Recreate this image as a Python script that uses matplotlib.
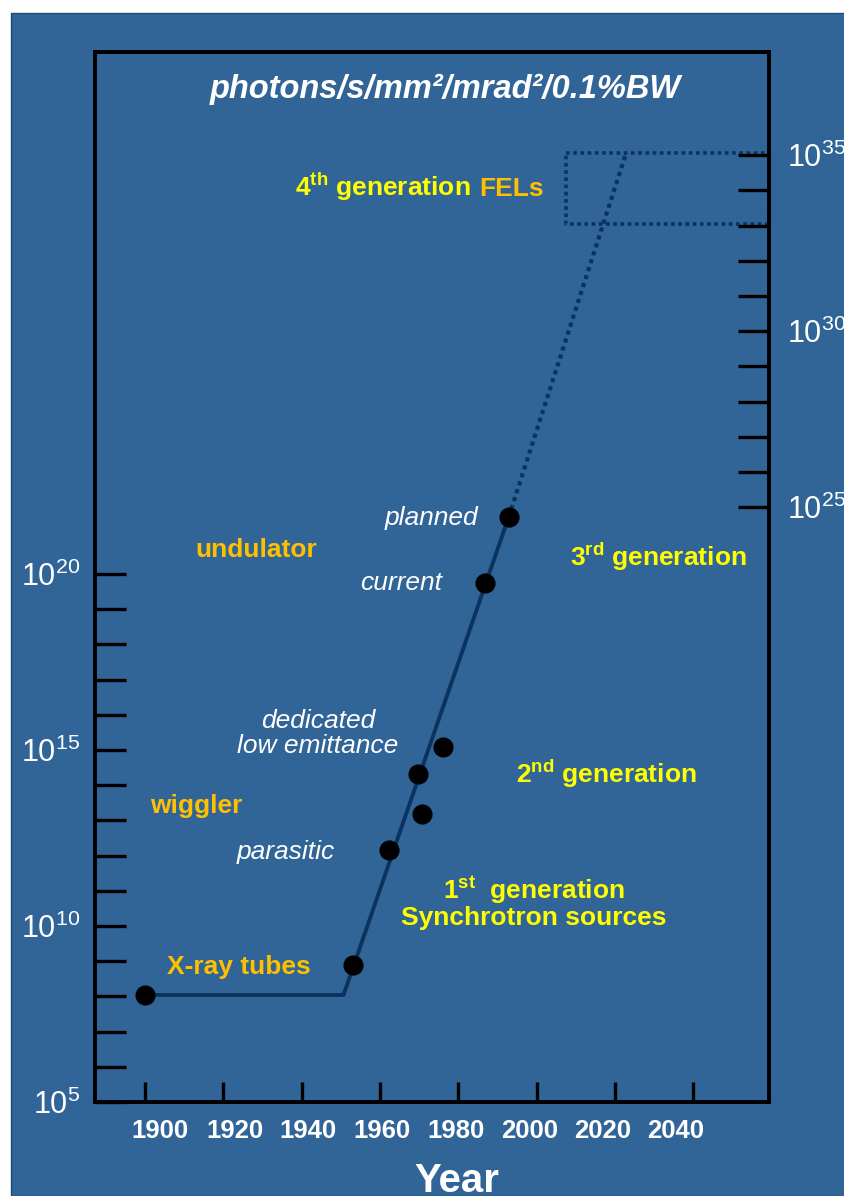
import matplotlib
matplotlib.use('Agg')
import matplotlib.pyplot as plt
import matplotlib.transforms as mtransforms
import numpy as np
from matplotlib.patches import Rectangle
from matplotlib.ticker import NullLocator

# source points: year and log10(brilliance)
years = [1900, 1953.2, 1962.4, 1970.8, 1969.8, 1976.2, 1986.9, 1992.9]
bright_exp = [8.04, 8.89, 12.16, 13.18, 14.32, 15.09, 19.74, 21.62]

# trend line (solid) and projection to FELs (dotted)
trend_years = [1900, 1950.7, 1992.9]
trend_exp = [8.04, 8.04, 21.62]
proj_years = [1992.9, 2022.9]
proj_exp = [21.62, 31.96]

# 4th generation FEL box
fel_years = [2007.6, 2059.4]
fel_exp = [29.94, 31.96]

xticks = [1900, 1920, 1940, 1960, 1980, 2000, 2020, 2040]
# the year labels in the original are not centred on their ticks (pixels)
xlabel_shift = [15, 12, 6, 2, -2, -7, -12, -17]
left_exp = list(range(5, 21))
left_labeled = [5, 10, 15, 20]
right_exp = list(range(25, 36))
right_labeled = [25, 30, 35]
right_offset = 3.1

BG = '#316497'
LINE = '#0b335f'
YEL = '#ffff00'
ORA = '#ffc000'
FS = 19

plt.rcParams['font.family'] = 'Liberation Sans'
plt.rcParams['mathtext.fontset'] = 'custom'
plt.rcParams['mathtext.rm'] = 'Liberation Sans'
plt.rcParams['mathtext.it'] = 'Liberation Sans:italic'
plt.rcParams['mathtext.bf'] = 'Liberation Sans:bold'
plt.rcParams['mathtext.sf'] = 'Liberation Sans'

fig = plt.figure(figsize=(8.45, 11.96), dpi=100)
fig.patch.set_facecolor('white')
fig.add_artist(Rectangle((11 / 845, 0), 1, (1196 - 13) / 1196, transform=fig.transFigure,
                         facecolor=BG, edgecolor='#1f4a78', lw=1, zorder=-10))

ax = fig.add_axes([95 / 845, 94 / 1196, 674 / 845, 1050 / 1196])
ax.set_facecolor(BG)
ax.set_yscale('log')
ax.set_xlim(1887.2, 2059.4)
ax.set_ylim(1e5, 10 ** 34.83)

for s in ax.spines.values():
    s.set_linewidth(2.6)
    s.set_color('black')

ax.set_xticks(xticks)
ax.set_xticklabels([str(x) for x in xticks], fontweight='bold')
ax.tick_params(axis='x', direction='in', length=14.5, width=2.4, pad=12,
               labelsize=18.5, labelcolor='white', color='black')
for lbl, dx in zip(ax.get_xticklabels(), xlabel_shift):
    lbl.set_transform(lbl.get_transform() +
                      mtransforms.ScaledTranslation(dx / 100, 0, fig.dpi_scale_trans))

ax.set_yticks([10.0 ** e for e in left_exp])
ax.set_yticklabels([r'$\mathrm{10^{%d}}$' % e if e in left_labeled else '' for e in left_exp])
ax.yaxis.set_minor_locator(NullLocator())
ax.tick_params(axis='y', direction='in', length=22, width=2.4, pad=11,
               labelsize=22, labelcolor='white', color='black')

ax2 = ax.twinx()
ax2.set_yscale('log')
ax2.set_ylim(10 ** (5 + right_offset), 10 ** (34.83 + right_offset))
ax2.set_yticks([10.0 ** e for e in right_exp])
ax2.set_yticklabels([r'$\mathrm{10^{%d}}$' % e if e in right_labeled else '' for e in right_exp])
ax2.yaxis.set_minor_locator(NullLocator())
ax2.tick_params(axis='y', direction='in', length=22, width=2.4, pad=13,
                labelsize=22, labelcolor='white', color='black')
for s in ax2.spines.values():
    s.set_linewidth(2.6)
    s.set_color('black')

# lines and points
ax.plot(trend_years, [10.0 ** e for e in trend_exp], color=LINE, lw=2.8, zorder=2)
ax.plot(proj_years, [10.0 ** e for e in proj_exp], color=LINE, lw=3, ls=(0, (1, 1)), zorder=2)
ax.plot(years, [10.0 ** e for e in bright_exp], 'o', color='black', ms=13.5, zorder=3)

bx = [fel_years[0], fel_years[1], fel_years[1], fel_years[0], fel_years[0]]
by = [fel_exp[1], fel_exp[1], fel_exp[0], fel_exp[0], fel_exp[1]]
ax.plot(bx, [10.0 ** e for e in by], color=LINE, lw=2.6, ls=(0, (1, 1)), zorder=2,
        clip_on=False)

# title
ax.text(0.519, 0.964, 'photons/s/mm²/mrad²/0.1%BW', transform=ax.transAxes,
        ha='center', va='center', fontsize=23.5, fontweight='bold', fontstyle='italic',
        color='white')

# generation labels
ax.text(1938.3, 10 ** 30.74, r'$\mathbf{4^{th}}$ generation', color=YEL, fontsize=FS,
        fontweight='bold', ha='left', va='baseline')
ax.text(1985.3, 10 ** 30.74, 'FELs', color=ORA, fontsize=FS, fontweight='bold',
        ha='left', va='baseline')
ax.text(2008.6, 10 ** 20.48, r'$\mathbf{3^{rd}}$ generation', color=YEL, fontsize=FS,
        fontweight='bold', ha='left', va='center')
ax.text(1994.8, 10 ** 14.32, r'$\mathbf{2^{nd}}$ generation', color=YEL, fontsize=FS,
        fontweight='bold', ha='left', va='center')
ax.text(1999.4, 10 ** 10.68, '$\\mathbf{1^{st}}$  generation\nSynchrotron sources', color=YEL,
        fontsize=FS, fontweight='bold', ha='center', va='center', multialignment='center',
        linespacing=1.0)

# source type labels
ax.text(1912.8, 10 ** 20.68, 'undulator', color=ORA, fontsize=FS, fontweight='bold',
        ha='left', va='center')
ax.text(1901.3, 10 ** 13.41, 'wiggler', color=ORA, fontsize=FS, fontweight='bold',
        ha='left', va='center')
ax.text(1905.6, 10 ** 8.84, 'X-ray tubes', color=ORA, fontsize=FS, fontweight='bold',
        ha='left', va='center')

# point labels
ax.text(1985.1, 10 ** 21.59, 'planned', color='white', fontsize=FS, fontstyle='italic',
        ha='right', va='center')
ax.text(1975.9, 10 ** 19.74, 'current', color='white', fontsize=FS, fontstyle='italic',
        ha='right', va='center')
ax.text(1944.2, 10 ** 15.48, 'dedicated\nlow emittance', color='white', fontsize=FS,
        fontstyle='italic', ha='center', va='center', multialignment='center',
        linespacing=1.05)
ax.text(1923.5, 10 ** 12.10, 'parasitic', color='white', fontsize=FS, fontstyle='italic',
        ha='left', va='center')

fig.text(457 / 845, 4 / 1196, 'Year', ha='center', va='baseline', fontsize=29,
         fontweight='bold', color='white')

fig.savefig('out.png', dpi=100, facecolor=fig.get_facecolor())
